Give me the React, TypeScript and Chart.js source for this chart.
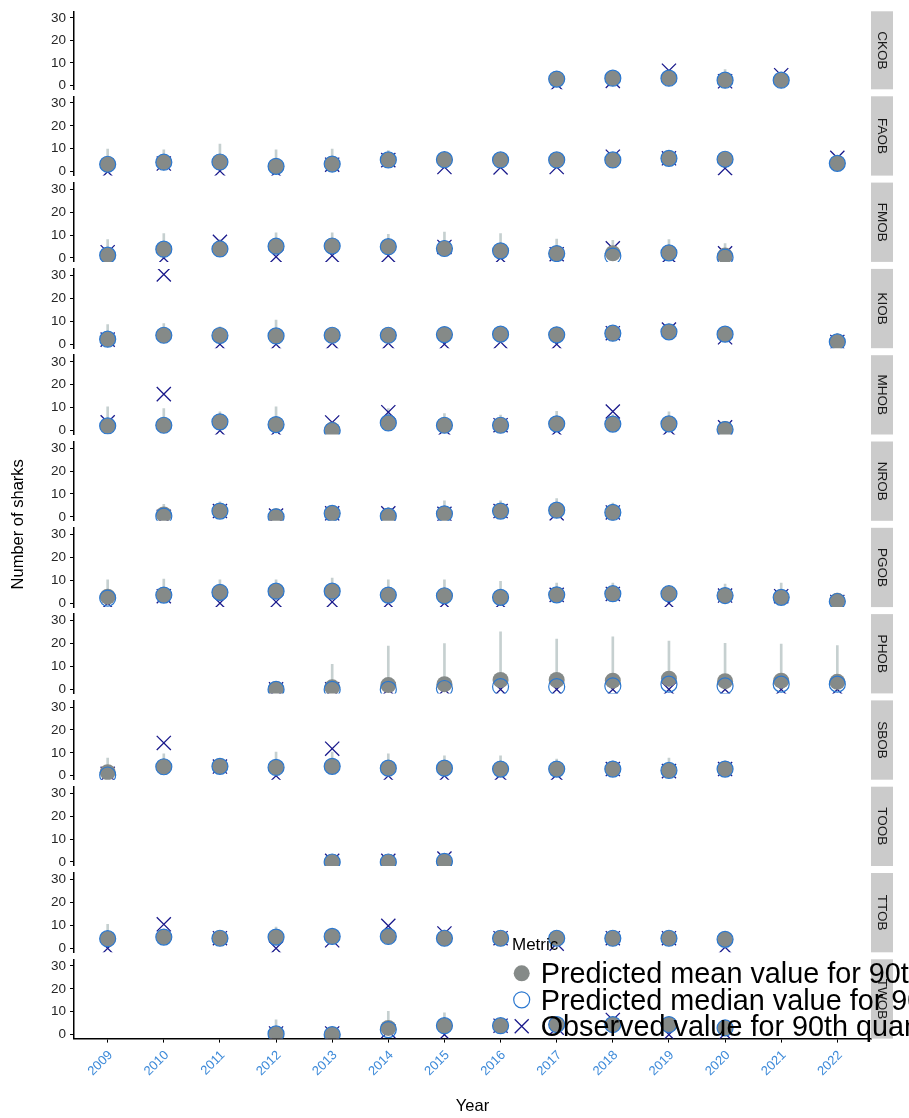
import React, { useEffect, useRef } from "react";
import { Chart, registerables } from "chart.js";

Chart.register(...registerables);
Chart.defaults.font.family = "'Liberation Sans', Arial, Helvetica, sans-serif";

// ---------------- data ----------------
const years = [2009, 2010, 2011, 2012, 2013, 2014, 2015, 2016, 2017, 2018, 2019, 2020, 2021, 2022];
const sites = ["CKOB", "FAOB", "FMOB", "KIOB", "MHOB", "NROB", "PGOB", "PHOB", "SBOB", "TOOB", "TTOB", "TWOB"];
const yTickValues = [0, 10, 20, 30];
const yLimits = [-1.75, 32.9];
const xExpand = 0.6;

const _ = null;
// predicted mean (grey filled circle)
const meanValues = [
  [_, _, _, _, _, _, _, _, 2.8, 3.2, 3.2, 2.3, 2.3, _],
  [3.2, 4.1, 4.2, 2.3, 3.3, 5.1, 5.2, 5.1, 5.1, 5.1, 5.8, 5.4, _, 3.6],
  [1.2, 3.8, 3.9, 5.1, 5.2, 4.9, 4.1, 3.1, 1.9, 2.0, 2.2, 1.0, _, _],
  [2.2, 3.9, 3.8, 3.6, 3.9, 3.9, 4.2, 4.4, 4.1, 4.8, 5.4, 4.4, _, 1.0],
  [2.0, 2.3, 3.8, 2.6, 0.3, 3.3, 2.3, 2.3, 2.9, 2.8, 2.9, 0.6, _, _],
  [_, 1.0, 2.5, 0.2, 1.5, 0.5, 1.3, 2.5, 2.9, 1.9, _, _, _, _],
  [2.8, 3.5, 4.7, 5.2, 5.2, 3.5, 3.2, 2.5, 3.6, 4.1, 4.1, 3.3, 2.5, 1.0],
  [_, _, _, 0.2, 0.9, 1.9, 2.3, 4.1, 4.1, 3.8, 4.7, 3.6, 3.8, 3.3],
  [1.5, 3.9, 4.1, 3.6, 4.1, 3.3, 3.3, 2.9, 2.9, 2.9, 2.3, 2.9, _, _],
  [_, _, _, _, 0.0, 0.0, 0.3, _, _, _, _, _, _, _],
  [4.2, 4.9, 4.4, 4.9, 5.2, 5.2, 4.4, 4.4, 4.4, 4.4, 4.4, 3.9, _, _],
  [_, _, _, 0.3, 0.0, 2.9, 3.9, 3.9, 4.4, 4.4, 4.4, 2.9, _, _],
];
// predicted median (blue open circle)
const medianValues = [
  [_, _, _, _, _, _, _, _, 2.8, 3.2, 3.2, 2.3, 2.3, _],
  [3.2, 4.1, 4.2, 2.3, 3.3, 5.1, 5.2, 5.1, 5.1, 5.1, 5.8, 5.4, _, 3.6],
  [1.2, 3.8, 3.9, 5.1, 5.2, 4.9, 4.1, 3.1, 1.9, 0.8, 2.2, 0.3, _, _],
  [2.2, 3.9, 3.8, 3.6, 3.9, 3.9, 4.2, 4.4, 4.1, 4.8, 5.4, 4.4, _, 1.0],
  [2.0, 2.3, 3.8, 2.6, 0.0, 3.3, 2.3, 2.3, 2.9, 2.8, 2.9, 0.4, _, _],
  [_, 0.3, 2.5, 0.0, 1.5, 0.3, 1.3, 2.5, 2.9, 1.9, _, _, _, _],
  [2.2, 3.5, 4.7, 5.2, 5.2, 3.5, 3.2, 2.5, 3.6, 4.1, 4.1, 3.3, 2.5, 0.7],
  [_, _, _, 0.0, 0.0, 0.0, 0.4, 1.2, 1.2, 1.5, 2.3, 1.5, 2.3, 2.3],
  [0.3, 3.9, 4.1, 3.6, 4.1, 3.3, 3.3, 2.9, 2.9, 2.9, 2.3, 2.9, _, _],
  [_, _, _, _, 0.0, 0.0, 0.3, _, _, _, _, _, _, _],
  [4.2, 4.9, 4.4, 4.9, 5.2, 5.2, 4.4, 4.4, 4.4, 4.4, 4.4, 3.9, _, _],
  [_, _, _, 0.3, 0.0, 2.2, 3.9, 3.9, 4.4, 4.4, 4.4, 2.9, _, _],
];
// observed 90th quantile (navy cross)
const observedValues = [
  [_, _, _, _, _, _, _, _, 0.5, 2.0, 6.5, 1.8, 4.5, _],
  [0.0, 3.5, 0.3, 0.0, 3.0, 5.0, 2.0, 1.8, 2.0, 6.5, 5.8, 1.5, _, 6.0],
  [2.5, 0.0, 7.0, 0.5, 1.0, 1.0, 4.8, 0.0, 1.6, 4.2, 0.8, 2.0, _, _],
  [2.0, 30.5, 0.0, 0.0, 0.5, 0.5, 0.0, 1.0, 0.0, 4.8, 6.4, 3.0, _, 1.0],
  [3.6, 15.9, 0.0, 0.0, 3.5, 8.0, 0.5, 2.3, 0.0, 8.3, 0.5, 1.4, _, _],
  [_, 0.0, 2.5, 0.5, 1.5, 1.5, 1.3, 2.5, 1.5, 1.9, _, _, _, _],
  [0.0, 3.0, 0.0, 0.5, 0.5, 0.0, 0.0, 0.0, 3.6, 4.0, 0.0, 3.3, 3.0, 0.5],
  [_, _, _, 0.0, 0.0, 0.0, 0.0, 0.0, 0.0, 0.0, 0.0, 0.0, 0.0, 0.0],
  [0.8, 14.3, 4.0, 0.0, 11.8, 0.0, 0.0, 0.5, 0.5, 2.9, 2.0, 2.9, _, _],
  [_, _, _, _, 0.5, 0.5, 1.5, _, _, _, _, _, _, _],
  [0.0, 10.5, 4.4, 0.0, 3.5, 9.8, 6.5, 4.4, 2.0, 4.4, 4.4, 0.5, _, _],
  [_, _, _, 0.5, 0.5, 1.5, 0.0, 3.9, 3.0, 6.4, 0.0, 0.5, _, _],
];
// prediction interval (light grey bar)
const intervalLow = [
  [_, _, _, _, _, _, _, _, 1.0, 1.5, 1.5, 0.5, 0.5, _],
  [1.0, 2.0, 2.0, 0.5, 1.5, 3.0, 3.0, 3.0, 3.0, 3.0, 3.5, 3.0, _, 1.5],
  [0.0, 2.0, 2.0, 3.0, 3.0, 3.0, 2.0, 1.0, 0.0, 0.0, 0.5, 0.0, _, _],
  [0.5, 2.0, 2.0, 1.5, 2.0, 2.0, 2.0, 2.5, 2.0, 3.0, 3.5, 2.5, _, 0.0],
  [0.5, 0.5, 2.0, 0.5, 0.0, 1.5, 0.5, 0.5, 1.0, 1.0, 1.0, 0.0, _, _],
  [_, 0.0, 0.5, 0.0, 0.0, 0.0, 0.0, 0.5, 1.0, 0.0, _, _, _, _],
  [0.5, 1.5, 2.5, 3.0, 3.0, 1.5, 1.0, 0.5, 1.5, 2.0, 2.0, 1.5, 0.5, 0.0],
  [_, _, _, 0.0, 0.0, 0.0, 0.0, 0.5, 0.5, 0.5, 1.0, 0.5, 1.0, 1.0],
  [0.0, 2.0, 2.0, 1.5, 2.0, 1.5, 1.5, 1.0, 1.0, 1.0, 0.5, 1.0, _, _],
  [_, _, _, _, 0.0, 0.0, 0.0, _, _, _, _, _, _, _],
  [2.0, 3.0, 2.5, 3.0, 3.0, 3.0, 2.5, 2.5, 2.5, 2.5, 2.5, 2.0, _, _],
  [_, _, _, 0.0, 0.0, 1.0, 2.0, 2.0, 2.5, 2.5, 2.5, 1.0, _, _],
];
const intervalHigh = [
  [_, _, _, _, _, _, _, _, 5.0, 5.5, 6.0, 7.0, 5.5, _],
  [9.8, 9.5, 12.0, 9.5, 9.8, 9.2, 8.0, 7.0, 6.5, 7.5, 7.5, 7.5, _, 5.0],
  [8.0, 10.6, 8.0, 11.0, 11.0, 10.3, 11.3, 10.6, 8.2, 7.7, 8.0, 6.3, _, _],
  [8.6, 9.0, 7.6, 10.5, 6.8, 7.0, 7.0, 7.0, 7.0, 7.0, 7.5, 6.5, _, 4.7],
  [10.3, 9.6, 8.2, 10.3, 3.0, 9.6, 7.4, 6.7, 8.4, 7.0, 8.2, 3.0, _, _],
  [_, 5.5, 6.5, 3.0, 5.0, 4.0, 7.0, 7.0, 8.0, 6.0, _, _, _, _],
  [10.2, 10.5, 10.2, 10.2, 10.9, 10.2, 10.2, 9.5, 8.7, 8.7, 6.0, 8.3, 8.7, 4.4],
  [_, _, _, 1.0, 11.0, 18.9, 20.0, 25.2, 22.0, 23.0, 21.1, 20.1, 19.8, 19.1],
  [7.7, 9.6, 7.0, 10.3, 10.3, 9.5, 8.7, 8.7, 7.3, 6.5, 7.7, 6.5, _, _],
  [_, _, _, _, 2.0, 2.0, 2.5, _, _, _, _, _, _, _],
  [10.5, 8.0, 7.9, 9.3, 8.0, 8.0, 8.0, 7.0, 6.5, 7.0, 7.0, 6.0, _, _],
  [_, _, _, 6.5, 2.0, 10.2, 9.5, 7.0, 7.0, 7.0, 7.0, 6.0, _, _],
];

const legendTitle = "Metric";
const legendLabels = [
  "Predicted mean value for 90th quantile",
  "Predicted median value for 90th quantile",
  "Observed value for 90th quantile",
];
const xTitle = "Year";
const yTitle = "Number of sharks";

// ---------------- layout & style ----------------
const FIG_W = 909;
const FIG_H = 1118;
const PLOT_L = 74;
const PLOT_R = 871;
const STRIP_R = 893;
const TOP0 = 10;
const PANEL_H = 79.3;
const PITCH = 86.3;
const X_AXIS_H = 50;

const C_MEAN = "#858a88";
const C_MEDIAN = "#2b78d0";
const C_OBS = "#1a1a8c";
const C_ERR = "#c6d0d0";
const C_AXIS = "#000000";
const C_TICK = "#262626";
const C_XTICK = "#3d8ad9";
const C_STRIP = "#cbcbcb";
const FONT = "'Liberation Sans', Arial, Helvetica, sans-serif";

const panelTop = (i: number) => TOP0 + i * PITCH;

function points(arr: (number | null)[]) {
  return years
    .map((x, j) => (arr[j] == null ? null : { x, y: arr[j] as number }))
    .filter((p) => p !== null);
}
function intervals(lo: (number | null)[], hi: (number | null)[]) {
  return years
    .map((x, j) => (hi[j] == null ? null : { x, y: [lo[j] as number, hi[j] as number] }))
    .filter((p) => p !== null);
}

const stripPlugin = {
  id: "facetStrip",
  afterDraw(chart: any, _args: any, opts: any) {
    const { ctx, chartArea } = chart;
    ctx.save();
    ctx.fillStyle = C_STRIP;
    ctx.fillRect(PLOT_R, chartArea.top, STRIP_R - PLOT_R, chartArea.bottom - chartArea.top);
    ctx.translate((PLOT_R + STRIP_R) / 2, (chartArea.top + chartArea.bottom) / 2);
    ctx.rotate(Math.PI / 2);
    ctx.fillStyle = "#1a1a1a";
    ctx.font = `13.5px ${FONT}`;
    ctx.textAlign = "center";
    ctx.textBaseline = "middle";
    ctx.fillText(opts.label || "", 0, 0);
    ctx.restore();
  },
};

const overlayPlugin = {
  id: "figureOverlay",
  afterDraw(chart: any, _args: any, opts: any) {
    if (!opts.enabled) return;
    const { ctx } = chart;
    ctx.save();
    // axis titles
    ctx.fillStyle = "#000";
    ctx.font = `16.5px ${FONT}`;
    ctx.textAlign = "center";
    ctx.textBaseline = "middle";
    ctx.fillText(xTitle, (PLOT_L + PLOT_R) / 2, 1106);
    ctx.save();
    ctx.translate(18.5, (TOP0 + panelTop(sites.length - 1) + PANEL_H) / 2);
    ctx.rotate(-Math.PI / 2);
    ctx.fillText(yTitle, 0, 0);
    ctx.restore();

    // legend
    ctx.textAlign = "left";
    ctx.textBaseline = "alphabetic";
    ctx.font = `17px ${FONT}`;
    ctx.fillText(legendTitle, 512, 950);
    const keyX = 521.7;
    const keyY = [973.3, 999.8, 1026.3];
    // mean key
    ctx.fillStyle = C_MEAN;
    ctx.beginPath();
    ctx.arc(keyX, keyY[0], 8, 0, Math.PI * 2);
    ctx.fill();
    // median key
    ctx.strokeStyle = C_MEDIAN;
    ctx.lineWidth = 1.2;
    ctx.beginPath();
    ctx.arc(keyX, keyY[1], 8, 0, Math.PI * 2);
    ctx.stroke();
    // observed key
    ctx.strokeStyle = C_OBS;
    ctx.lineWidth = 1.3;
    const d = 7;
    ctx.beginPath();
    ctx.moveTo(keyX - d, keyY[2] - d);
    ctx.lineTo(keyX + d, keyY[2] + d);
    ctx.moveTo(keyX - d, keyY[2] + d);
    ctx.lineTo(keyX + d, keyY[2] - d);
    ctx.stroke();
    ctx.fillStyle = "#000";
    ctx.font = `28.8px ${FONT}`;
    legendLabels.forEach((t, k) => ctx.fillText(t, 540.7, keyY[k] + 9.8));
    ctx.restore();
  },
};

function buildConfig(i: number): any {
  const isLast = i === sites.length - 1;
  const top = panelTop(i);
  const bottom = top + PANEL_H;
  const padBottom = isLast ? FIG_H - bottom - X_AXIS_H : FIG_H - bottom;
  const axisGrid = {
    display: true,
    offset: false,
    drawOnChartArea: false,
    drawTicks: true,
    tickLength: 4,
    color: C_AXIS,
    lineWidth: 1,
  };
  const axisBorder = { display: true, color: C_AXIS, width: 1.5 };
  return {
    type: "scatter",
    data: {
      datasets: [
        {
          type: "bar",
          label: "interval",
          data: intervals(intervalLow[i], intervalHigh[i]),
          backgroundColor: C_ERR,
          borderWidth: 0,
          barThickness: 2,
          grouped: false,
          order: 4,
          clip: 0,
        },
        {
          type: "scatter",
          label: legendLabels[2],
          data: points(observedValues[i]),
          pointStyle: "crossRot",
          pointRadius: 10,
          borderColor: C_OBS,
          backgroundColor: "rgba(0,0,0,0)",
          borderWidth: 1.3,
          order: 3,
          clip: 0,
        },
        {
          type: "scatter",
          label: legendLabels[0],
          data: points(meanValues[i]),
          pointStyle: "circle",
          pointRadius: 8,
          backgroundColor: C_MEAN,
          borderColor: C_MEAN,
          borderWidth: 0,
          order: 2,
          clip: 0,
        },
        {
          type: "scatter",
          label: legendLabels[1],
          data: points(medianValues[i]),
          pointStyle: "circle",
          pointRadius: 8,
          backgroundColor: "rgba(0,0,0,0)",
          borderColor: C_MEDIAN,
          borderWidth: 1.2,
          order: 1,
          clip: 0,
        },
      ],
    },
    options: {
      animation: false,
      responsive: false,
      maintainAspectRatio: false,
      devicePixelRatio: 1,
      events: [],
      layout: { padding: { top, bottom: padBottom, left: 0, right: FIG_W - PLOT_R } },
      plugins: {
        legend: { display: false },
        tooltip: { enabled: false },
        title: { display: false },
        facetStrip: { label: sites[i] },
        figureOverlay: { enabled: isLast },
      },
      scales: {
        x: {
          type: "linear",
          display: isLast,
          offset: false,
          min: years[0] - xExpand,
          max: years[years.length - 1] + xExpand,
          afterBuildTicks: (s: any) => {
            s.ticks = years.map((v) => ({ value: v }));
          },
          afterFit: (s: any) => {
            s.height = isLast ? X_AXIS_H : 0;
            s.paddingLeft = 0;
            s.paddingRight = 0;
          },
          ticks: {
            autoSkip: false,
            maxRotation: 45,
            minRotation: 45,
            padding: 5,
            labelOffset: 3,
            color: C_XTICK,
            font: { size: 13 },
            callback: (v: any) => String(v),
          },
          grid: axisGrid,
          border: axisBorder,
        },
        y: {
          type: "linear",
          min: yLimits[0],
          max: yLimits[1],
          afterBuildTicks: (s: any) => {
            s.ticks = yTickValues.map((v) => ({ value: v }));
          },
          afterFit: (s: any) => {
            s.width = PLOT_L;
            s.paddingTop = 0;
            s.paddingBottom = 0;
          },
          ticks: {
            padding: 4,
            color: C_TICK,
            font: { size: 13.5 },
            callback: (v: any) => String(v),
          },
          grid: axisGrid,
          border: axisBorder,
        },
      },
    },
    plugins: [stripPlugin, overlayPlugin],
  };
}

export default function App() {
  const refs = useRef<(HTMLCanvasElement | null)[]>([]);
  useEffect(() => {
    const charts = sites.map((_s, i) => new Chart(refs.current[i] as HTMLCanvasElement, buildConfig(i)));
    return () => charts.forEach((c) => c.destroy());
  }, []);
  return (
    <div style={{ position: "absolute", left: 0, top: 0, width: FIG_W, height: FIG_H, background: "#ffffff" }}>
      {sites.map((s, i) => (
        <canvas
          key={s}
          ref={(el) => {
            refs.current[i] = el;
          }}
          width={FIG_W}
          height={FIG_H}
          style={{ position: "absolute", left: 0, top: 0, width: FIG_W, height: FIG_H }}
        />
      ))}
    </div>
  );
}
